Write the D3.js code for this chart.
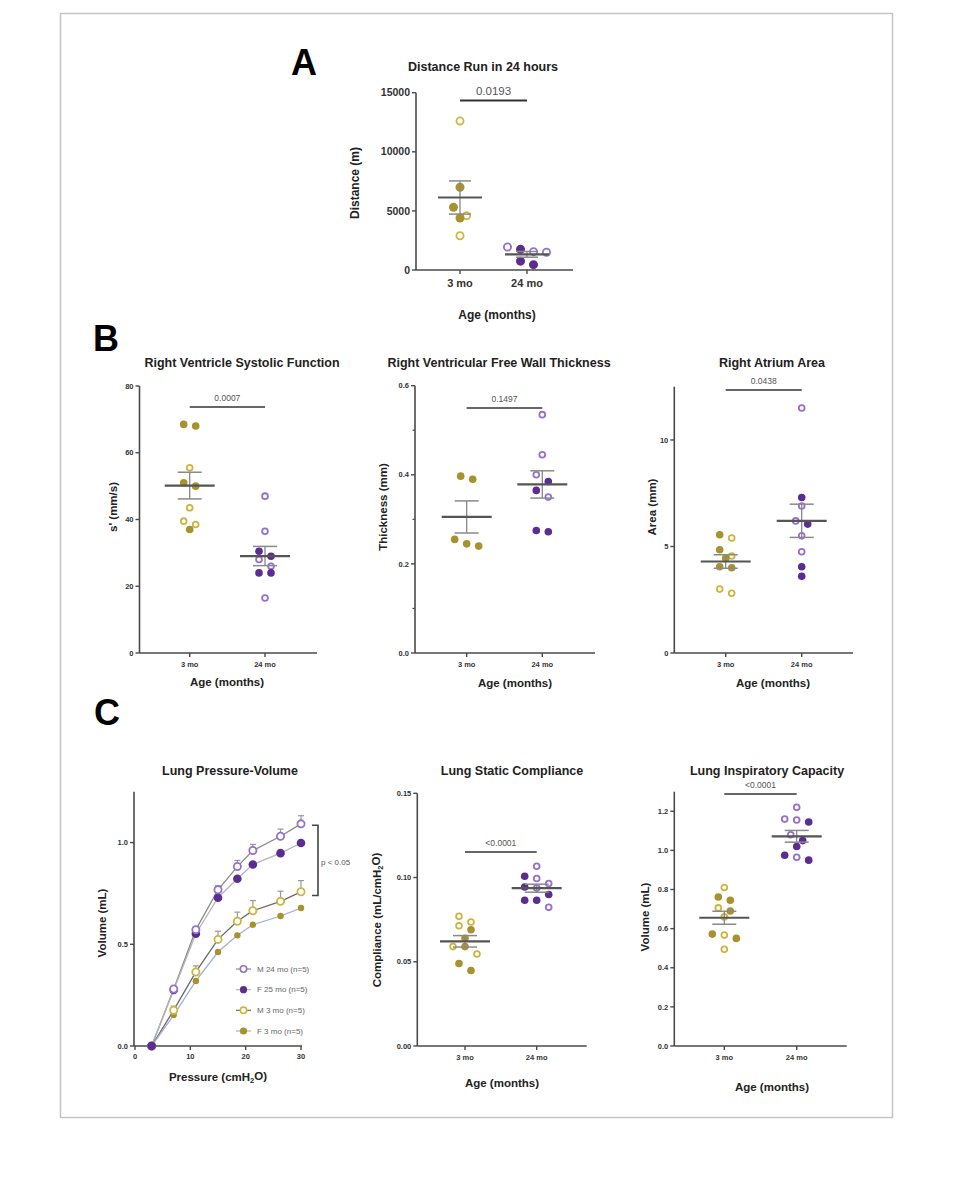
<!DOCTYPE html>
<html>
<head>
<meta charset="utf-8">
<script src="https://cdn.jsdelivr.net/npm/d3@7"></script>
<style>
  body { margin: 0; background: #fff; }
  svg text { font-family: "Liberation Sans", Arial, sans-serif; }
</style>
</head>
<body>
<div id="fig"></div>
<script>
// Canvas size
var totWidth = 953,
    totHeight = 1200;

// ---- Data ----
var ageCats = ["3 mo", "24 mo"];

// A: distance run in 24 h (m)
var distYoungM = [12600, 4600, 2900];
var distYoungF = [7000, 5300, 4400];
var distOldM = [1550, 1500, 1950];
var distOldF = [1750, 450, 750];

// B: right ventricle systolic function s' (mm/s)
var rvsYoungM = [55.5, 43.5, 39.5, 38.5];
var rvsYoungF = [68.5, 68, 51, 50, 37];
var rvsOldM = [47, 36.5, 28, 26, 16.5];
var rvsOldF = [30.5, 29, 24, 24];

// B: RV free wall thickness (mm)
var thkYoungM = [];
var thkYoungF = [0.39, 0.397, 0.255, 0.24, 0.245];
var thkOldM = [0.535, 0.445, 0.40, 0.35];
var thkOldF = [0.385, 0.365, 0.272, 0.275];

// B: right atrium area (mm)
var raYoungM = [5.4, 4.55, 3.0, 2.8];
var raYoungF = [5.55, 4.85, 4.45, 4.0, 4.05];
var raOldM = [11.5, 6.9, 6.2, 5.5, 4.75];
var raOldF = [7.3, 6.05, 4.05, 3.6];

// C: lung pressure-volume
var pvPressure = [3, 7, 11, 15, 18.5, 21.3, 26.3, 30];
var pvOldM = [0, 0.28, 0.572, 0.768, 0.882, 0.961, 1.031, 1.092];
var pvOldMErr = [0, 0.01, 0.015, 0.02, 0.03, 0.03, 0.035, 0.04];
var pvOldF = [0, 0.275, 0.552, 0.729, 0.822, 0.892, 0.948, 0.998];
var pvYoungM = [0, 0.176, 0.364, 0.524, 0.613, 0.665, 0.711, 0.758];
var pvYoungMErr = [0, 0.02, 0.03, 0.04, 0.045, 0.05, 0.05, 0.055];
var pvYoungF = [0, 0.152, 0.32, 0.462, 0.544, 0.596, 0.639, 0.678];
var pvLegend = ["M 24 mo (n=5)", "F 25 mo (n=5)", "M 3 mo (n=5)", "F 3 mo (n=5)"];

// C: lung static compliance (mL/cmH2O)
var compYoungM = [0.077, 0.0736, 0.0714, 0.059, 0.0546];
var compYoungF = [0.069, 0.064, 0.059, 0.049, 0.0448];
var compOldM = [0.1067, 0.0994, 0.0964, 0.0938, 0.0823];
var compOldF = [0.1008, 0.0944, 0.0899, 0.0865, 0.0865];

// C: lung inspiratory capacity (mL)
var icYoungM = [0.81, 0.706, 0.66, 0.567, 0.494];
var icYoungF = [0.762, 0.745, 0.69, 0.572, 0.55];
var icOldM = [1.22, 1.16, 1.155, 1.08, 0.965];
var icOldF = [1.145, 1.05, 1.02, 0.975, 0.95];

// colours
var goldFill = "#a8922e", goldRing = "#cdb540",
    purpleFill = "#5b2c91", purpleRing = "#9670cc";
var axisCol = "#4a4a4a";

var svg = d3.select("#fig").append("svg")
    .attr("width", totWidth)
    .attr("height", totHeight);

svg.append("rect")
    .attr("x", 60.5).attr("y", 13.5)
    .attr("width", 832).attr("height", 1104)
    .attr("fill", "#fff")
    .attr("stroke", "#c4c4c4")
    .attr("stroke-width", 1.5);

// panel letters
[["A", 291, 75], ["B", 93, 351], ["C", 94, 725]].forEach(function(l) {
  svg.append("text").attr("x", l[1]).attr("y", l[2])
    .attr("font-size", 36).attr("font-weight", "bold")
    .text(l[0]);
});

// GraphPad-like scatter: points that sit at nearly the same height form a row,
// and each row is spread symmetrically around the column centre
function swarm(points, cx, y, r, step) {
  var rows = [], cur = null;
  points.slice().sort(function(a, b) { return b.v - a.v; }).forEach(function(p) {
    var py = y(p.v);
    var q = {v: p.v, sex: p.sex, y: py};
    if (cur && py - cur.y0 < 2 * r + 0.5) cur.pts.push(q);
    else { cur = {y0: py, pts: [q]}; rows.push(cur); }
  });
  var out = [];
  rows.forEach(function(row) {
    var n = row.pts.length;
    row.pts.forEach(function(q, k) {
      q.x = cx + (k - (n - 1) / 2) * step;
      out.push(q);
    });
  });
  return out;
}

function yAxis(g, y, x0, ticks, fmt, fs, minor, topPx) {
  g.append("line")
    .attr("x1", x0).attr("x2", x0)
    .attr("y1", y.range()[0]).attr("y2", topPx)
    .attr("stroke", axisCol).attr("stroke-width", 1.6);
  ticks.forEach(function(t) {
    g.append("line").attr("x1", x0 - 4).attr("x2", x0)
      .attr("y1", y(t)).attr("y2", y(t))
      .attr("stroke", axisCol).attr("stroke-width", 1.4);
    g.append("text").attr("x", x0 - 6).attr("y", y(t))
      .attr("dy", "0.35em").attr("text-anchor", "end")
      .attr("font-size", fs).attr("font-weight", "bold").attr("fill", "#333")
      .text(fmt(t));
  });
  (minor || []).forEach(function(t) {
    g.append("line").attr("x1", x0 - 2.5).attr("x2", x0)
      .attr("y1", y(t)).attr("y2", y(t))
      .attr("stroke", axisCol).attr("stroke-width", 1.2);
  });
}

function scatterPanel(c) {
  var g = svg.append("g");
  var y = d3.scaleLinear().domain(c.domain).range(c.yRange);
  var x = d3.scalePoint().domain(ageCats).range(c.cx);

  yAxis(g, y, c.x0, c.ticks, c.fmt, c.fsTick, c.minor, c.axisTop);

  // x axis
  g.append("line").attr("x1", c.x0).attr("x2", c.xEnd)
    .attr("y1", c.yRange[0]).attr("y2", c.yRange[0])
    .attr("stroke", axisCol).attr("stroke-width", 1.6);
  ageCats.forEach(function(cat) {
    g.append("line").attr("x1", x(cat)).attr("x2", x(cat))
      .attr("y1", c.yRange[0]).attr("y2", c.yRange[0] + 4)
      .attr("stroke", axisCol).attr("stroke-width", 1.4);
    g.append("text").attr("x", x(cat)).attr("y", c.yRange[0] + 6 + c.fsCat)
      .attr("text-anchor", "middle").attr("font-size", c.fsCat)
      .attr("font-weight", "bold").attr("fill", "#333")
      .text(cat);
  });

  // titles and labels
  g.append("text").attr("x", c.titleX).attr("y", c.titleY)
    .attr("text-anchor", "middle").attr("font-size", 12.5)
    .attr("font-weight", "bold").attr("fill", "#222").text(c.title);
  var yl = g.append("text")
    .attr("transform", "translate(" + c.ylabX + "," + c.ylabY + ") rotate(-90)")
    .attr("text-anchor", "middle").attr("dy", "0.35em")
    .attr("font-size", c.fsLab).attr("font-weight", "bold").attr("fill", "#222");
  if (c.ylabSub) {
    yl.append("tspan").text(c.ylab[0]);
    yl.append("tspan").attr("font-size", c.fsLab * 0.65).attr("dy", "0.3em").text(c.ylab[1]);
    yl.append("tspan").attr("dy", "-0.3em").text(c.ylab[2]);
  } else {
    yl.text(c.ylab);
  }
  g.append("text").attr("x", c.xlabX).attr("y", c.xlabY)
    .attr("text-anchor", "middle").attr("dy", "0.35em")
    .attr("font-size", c.fsLab).attr("font-weight", "bold").attr("fill", "#222")
    .text(c.xlab);

  // significance bar
  g.append("line").attr("x1", c.cx[0]).attr("x2", c.cx[1])
    .attr("y1", c.pLineY).attr("y2", c.pLineY)
    .attr("stroke", c.big ? "#333" : "#666").attr("stroke-width", 2);
  g.append("text").attr("x", (c.cx[0] + c.cx[1]) / 2).attr("y", c.pLineY - 6)
    .attr("text-anchor", "middle").attr("font-size", c.fsP).attr("fill", "#555")
    .text(c.p);

  var cols = [
    {ring: goldRing, fill: goldFill},
    {ring: purpleRing, fill: purpleFill}
  ];
  c.groups.forEach(function(grp, i) {
    var pts = grp.m.map(function(v) { return {v: v, sex: "M"}; })
      .concat(grp.f.map(function(v) { return {v: v, sex: "F"}; }));
    var cx = x(ageCats[i]);
    var placed = swarm(pts, cx, y, c.r, c.step);
    g.selectAll(null).data(placed).enter().append("circle")
      .attr("cx", function(d) { return d.x; })
      .attr("cy", function(d) { return d.y; })
      .attr("r", function(d) { return d.sex === "M" ? c.r - 0.9 : c.r; })
      .attr("fill", function(d) { return d.sex === "M" ? "#fff" : cols[i].fill; })
      .attr("stroke", function(d) { return d.sex === "M" ? cols[i].ring : "none"; })
      .attr("stroke-width", 1.8);

    var vals = grp.m.concat(grp.f);
    var mean = d3.mean(vals);
    var sem = d3.deviation(vals) / Math.sqrt(vals.length);
    g.append("line").attr("x1", cx).attr("x2", cx)
      .attr("y1", y(mean - sem)).attr("y2", y(mean + sem))
      .attr("stroke", "#888").attr("stroke-width", 1.3);
    [mean - sem, mean + sem].forEach(function(v) {
      g.append("line").attr("x1", cx - c.semHW).attr("x2", cx + c.semHW)
        .attr("y1", y(v)).attr("y2", y(v))
        .attr("stroke", "#8a8a8a").attr("stroke-width", 1.5);
    });
    g.append("line").attr("x1", cx - c.meanHW).attr("x2", cx + c.meanHW)
      .attr("y1", y(mean)).attr("y2", y(mean))
      .attr("stroke", "#555").attr("stroke-width", 2.2);
  });
}

var small = {fsTick: 7.5, fsCat: 7.5, fsLab: 11.5, fsP: 8.5, r: 3.8, step: 12, meanHW: 25, semHW: 12};

// Panel A
scatterPanel({
  x0: 416, xEnd: 573, cx: [460, 527], yRange: [270, 92.7], axisTop: 92.7,
  domain: [0, 15000], ticks: [0, 5000, 10000, 15000], fmt: d3.format("d"),
  fsTick: 10.5, fsCat: 11, fsLab: 12, fsP: 11.5, r: 4.5, step: 13, meanHW: 22, semHW: 11, big: true,
  title: "Distance Run in 24 hours", titleX: 483, titleY: 71,
  ylab: "Distance  (m)", ylabX: 355, ylabY: 183,
  xlab: "Age (months)", xlabX: 497, xlabY: 315,
  p: "0.0193", pLineY: 100.5,
  groups: [{m: distYoungM, f: distYoungF}, {m: distOldM, f: distOldF}]
});

// Panel B
scatterPanel(Object.assign({}, small, {
  x0: 139.5, xEnd: 317, cx: [189.7, 265], yRange: [653, 386], axisTop: 386,
  domain: [0, 80], ticks: [0, 20, 40, 60, 80], fmt: d3.format("d"),
  title: "Right Ventricle Systolic Function", titleX: 242, titleY: 367,
  ylab: "s' (mm/s)", ylabX: 113, ylabY: 507,
  xlab: "Age  (months)", xlabX: 227, xlabY: 682,
  p: "0.0007", pLineY: 407,
  groups: [{m: rvsYoungM, f: rvsYoungF}, {m: rvsOldM, f: rvsOldF}]
}));

scatterPanel(Object.assign({}, small, {
  x0: 415, xEnd: 595, cx: [466.7, 542.3], yRange: [653, 385.7], axisTop: 385.7,
  domain: [0, 0.6], ticks: [0, 0.2, 0.4, 0.6], minor: [0.1, 0.3, 0.5], fmt: d3.format(".1f"),
  title: "Right Ventricular Free Wall Thickness", titleX: 499, titleY: 367,
  ylab: "Thickness (mm)", ylabX: 383, ylabY: 507,
  xlab: "Age  (months)", xlabX: 515, xlabY: 683,
  p: "0.1497", pLineY: 408,
  groups: [{m: thkYoungM, f: thkYoungF}, {m: thkOldM, f: thkOldF}]
}));

scatterPanel(Object.assign({}, small, {
  x0: 674.3, xEnd: 853, cx: [725.7, 801.7], yRange: [653, 386.7], axisTop: 386.7,
  domain: [0, 12.5], ticks: [0, 5, 10], fmt: d3.format("d"),
  title: "Right Atrium Area", titleX: 772, titleY: 367,
  ylab: "Area (mm)", ylabX: 652, ylabY: 507,
  xlab: "Age (months)", xlabX: 773, xlabY: 683,
  p: "0.0438", pLineY: 390,
  groups: [{m: raYoungM, f: raYoungF}, {m: raOldM, f: raOldF}]
}));

// Panel C: compliance + inspiratory capacity
scatterPanel(Object.assign({}, small, {
  x0: 417.3, xEnd: 586.7, cx: [465, 536.7], yRange: [1046, 793.3], axisTop: 793.3,
  domain: [0, 0.15], ticks: [0, 0.05, 0.10, 0.15], fmt: d3.format(".2f"),
  title: "Lung Static Compliance", titleX: 512, titleY: 775,
  ylab: ["Compliance (mL/cmH", "2", "O)"], ylabSub: true, ylabX: 377, ylabY: 920,
  xlab: "Age  (months)", xlabX: 502, xlabY: 1083,
  p: "<0.0001", pLineY: 852,
  groups: [{m: compYoungM, f: compYoungF}, {m: compOldM, f: compOldF}]
}));

scatterPanel(Object.assign({}, small, {
  x0: 674.3, xEnd: 846.7, cx: [724.3, 796.7], yRange: [1046, 791.7], axisTop: 791.7,
  domain: [0, 1.3], ticks: [0, 0.2, 0.4, 0.6, 0.8, 1.0, 1.2], fmt: d3.format(".1f"),
  title: "Lung Inspiratory Capacity", titleX: 767, titleY: 775,
  ylab: "Volume (mL)", ylabX: 645, ylabY: 917,
  xlab: "Age (months)", xlabX: 772, xlabY: 1087,
  p: "<0.0001", pLineY: 794,
  groups: [{m: icYoungM, f: icYoungF}, {m: icOldM, f: icOldF}]
}));

// Panel C: pressure-volume curves
function buildPV() {
  var g = svg.append("g");
  var x = d3.scaleLinear().domain([0, 30]).range([135, 301]);
  var y = d3.scaleLinear().domain([0, 1.25]).range([1046, 791.7]);

  yAxis(g, y, 134, [0, 0.5, 1.0], d3.format(".1f"), 7.5, null, 791.7);
  g.append("line").attr("x1", 134).attr("x2", 302)
    .attr("y1", 1046).attr("y2", 1046)
    .attr("stroke", axisCol).attr("stroke-width", 1.6);
  [0, 10, 20, 30].forEach(function(t) {
    g.append("line").attr("x1", x(t)).attr("x2", x(t))
      .attr("y1", 1046).attr("y2", 1050)
      .attr("stroke", axisCol).attr("stroke-width", 1.4);
    g.append("text").attr("x", x(t)).attr("y", 1059)
      .attr("text-anchor", "middle").attr("font-size", 7.5)
      .attr("font-weight", "bold").attr("fill", "#333").text(t);
  });

  g.append("text").attr("x", 230).attr("y", 775)
    .attr("text-anchor", "middle").attr("font-size", 12.5)
    .attr("font-weight", "bold").attr("fill", "#222").text("Lung Pressure-Volume");
  g.append("text")
    .attr("transform", "translate(102,923) rotate(-90)")
    .attr("text-anchor", "middle").attr("dy", "0.35em")
    .attr("font-size", 11.5).attr("font-weight", "bold").attr("fill", "#222")
    .text("Volume  (mL)");
  var xl = g.append("text").attr("x", 218).attr("y", 1077)
    .attr("text-anchor", "middle").attr("dy", "0.35em")
    .attr("font-size", 11.5).attr("font-weight", "bold").attr("fill", "#222");
  xl.append("tspan").text("Pressure (cmH");
  xl.append("tspan").attr("font-size", 7.5).attr("dy", "0.3em").text("2");
  xl.append("tspan").attr("dy", "-0.3em").text("O)");

  var series = [
    {v: pvOldM, err: pvOldMErr, open: true, col: purpleRing, line: "#8a8a8a", r: 3.6},
    {v: pvOldF, open: false, col: purpleFill, line: "#b5b5b5", r: 4.3},
    {v: pvYoungM, err: pvYoungMErr, open: true, col: goldRing, line: "#6a6a6a", r: 3.6},
    {v: pvYoungF, open: false, col: goldFill, line: "#9fb0d8", r: 3.2}
  ];
  var line = d3.line()
    .x(function(d, i) { return x(pvPressure[i]); })
    .y(function(d) { return y(d); });

  series.forEach(function(s) {
    g.append("path").attr("d", line(s.v))
      .attr("fill", "none").attr("stroke", s.line).attr("stroke-width", 1.3);
  });
  series.forEach(function(s) {
    if (s.err) {
      s.v.forEach(function(v, i) {
        if (!s.err[i]) return;
        var px = x(pvPressure[i]);
        g.append("line").attr("x1", px).attr("x2", px)
          .attr("y1", y(v)).attr("y2", y(v + s.err[i]))
          .attr("stroke", "#999").attr("stroke-width", 1.2);
        g.append("line").attr("x1", px - 3).attr("x2", px + 3)
          .attr("y1", y(v + s.err[i])).attr("y2", y(v + s.err[i]))
          .attr("stroke", "#999").attr("stroke-width", 1.2);
      });
    }
  });
  // draw filled series under open ones
  [series[3], series[1], series[2], series[0]].forEach(function(s) {
    g.selectAll(null).data(s.v).enter().append("circle")
      .attr("cx", function(d, i) { return x(pvPressure[i]); })
      .attr("cy", function(d) { return y(d); })
      .attr("r", s.r)
      .attr("fill", s.open ? "#fff" : s.col)
      .attr("stroke", s.open ? s.col : "none")
      .attr("stroke-width", 1.8);
  });
  // origin point
  g.append("circle").attr("cx", x(pvPressure[0])).attr("cy", y(0))
    .attr("r", 4.2).attr("fill", purpleFill);

  // significance bracket
  g.append("path")
    .attr("d", "M312," + y(1.085) + "H318V" + y(0.74) + "H312")
    .attr("fill", "none").attr("stroke", "#444").attr("stroke-width", 1.6);
  g.append("text").attr("x", 321).attr("y", y(0.905)).attr("dy", "0.35em")
    .attr("font-size", 8).attr("fill", "#555").text("p < 0.05");

  // legend
  var ly = d3.scalePoint().domain(pvLegend).range([969, 1031]);
  pvLegend.forEach(function(lbl, i) {
    var s = series[i];
    g.append("line").attr("x1", 236).attr("x2", 251)
      .attr("y1", ly(lbl)).attr("y2", ly(lbl))
      .attr("stroke", s.line).attr("stroke-width", 1.2);
    g.append("circle").attr("cx", 243.5).attr("cy", ly(lbl))
      .attr("r", s.open ? 3.2 : 3.6)
      .attr("fill", s.open ? "#fff" : s.col)
      .attr("stroke", s.open ? s.col : "none").attr("stroke-width", 1.6);
    g.append("text").attr("x", 257).attr("y", ly(lbl)).attr("dy", "0.35em")
      .attr("font-size", 8).attr("fill", "#666").text(lbl);
  });
}

buildPV();
</script>
</body>
</html>
